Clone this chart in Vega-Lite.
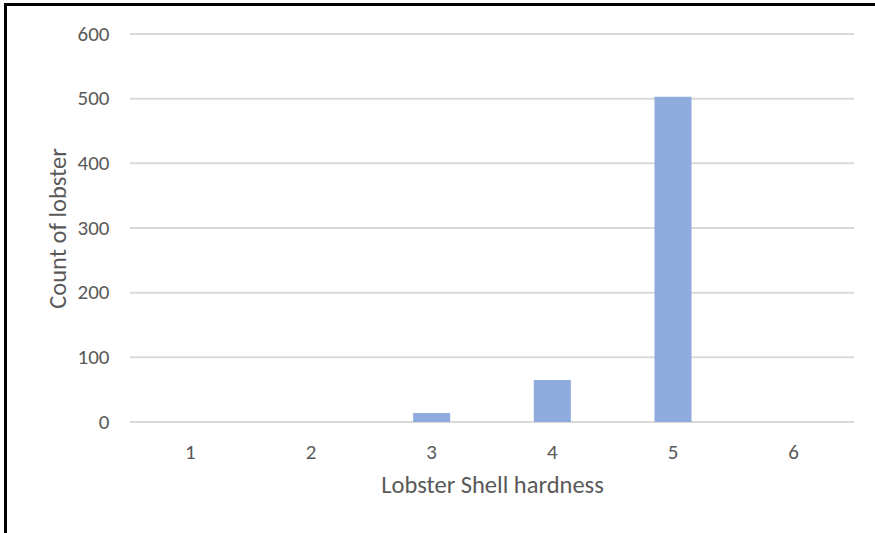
{
  "$schema": "https://vega.github.io/schema/vega-lite/v6.json",
  "width": 869.5,
  "height": 528.5,
  "autosize": {"type": "none"},
  "padding": {"left": 5.5, "top": 4.5, "right": 0, "bottom": 0},
  "background": "#ffffff",
  "config": {
    "font": "Carlito, Lato, sans-serif",
    "view": {"stroke": "#000000", "strokeWidth": 3, "strokeCap": "square", "strokeDash": [869.5, 1398, 528.5]}
  },
  "datasets": {
    "counts": [
      {"hardness": "1", "count": 0},
      {"hardness": "2", "count": 0},
      {"hardness": "3", "count": 14},
      {"hardness": "4", "count": 65},
      {"hardness": "5", "count": 503},
      {"hardness": "6", "count": 0}
    ],
    "gridlines": [
      {"count": 0}, {"count": 100}, {"count": 200}, {"count": 300},
      {"count": 400}, {"count": 500}, {"count": 600}
    ]
  },
  "layer": [
    {
      "data": {"name": "gridlines"},
      "mark": {"type": "rule", "color": "#d9d9d9", "strokeWidth": 2},
      "encoding": {
        "y": {
          "field": "count",
          "type": "quantitative",
          "title": "Count of lobster",
          "scale": {"domain": [0, 600], "range": [417.5, 29.5]},
          "axis": {
            "offset": -124.5,
            "grid": false, "ticks": false, "domain": false,
            "values": [0, 100, 200, 300, 400, 500, 600],
            "labelPadding": 21, "labelFontSize": 21, "labelColor": "#595959",
            "titleFontSize": 24.5, "titleFontWeight": "normal", "titleColor": "#595959",
            "titlePadding": 7
          }
        },
        "x": {
          "datum": 0.5,
          "type": "quantitative",
          "scale": {"domain": [0.5, 6.5], "range": [124.5, 848.5]},
          "axis": null
        },
        "x2": {"datum": 6.5}
      }
    },
    {
      "data": {"name": "counts"},
      "mark": {"type": "bar", "color": "#8faadc"},
      "encoding": {
        "x": {
          "field": "hardness",
          "type": "ordinal",
          "title": "Lobster Shell hardness",
          "scale": {"range": [124.5, 848.5], "paddingInner": 0.693, "paddingOuter": 0.3465},
          "axis": {
            "offset": -111,
            "labelAngle": 0, "ticks": false, "domain": false,
            "labelPadding": 19, "labelFontSize": 21, "labelColor": "#595959",
            "titleFontSize": 24.5, "titleFontWeight": "normal", "titleColor": "#595959",
            "titlePadding": 11
          }
        },
        "y": {"field": "count", "type": "quantitative", "title": "Count of lobster"}
      }
    }
  ],
  "resolve": {"scale": {"x": "independent"}, "axis": {"x": "independent"}}
}
